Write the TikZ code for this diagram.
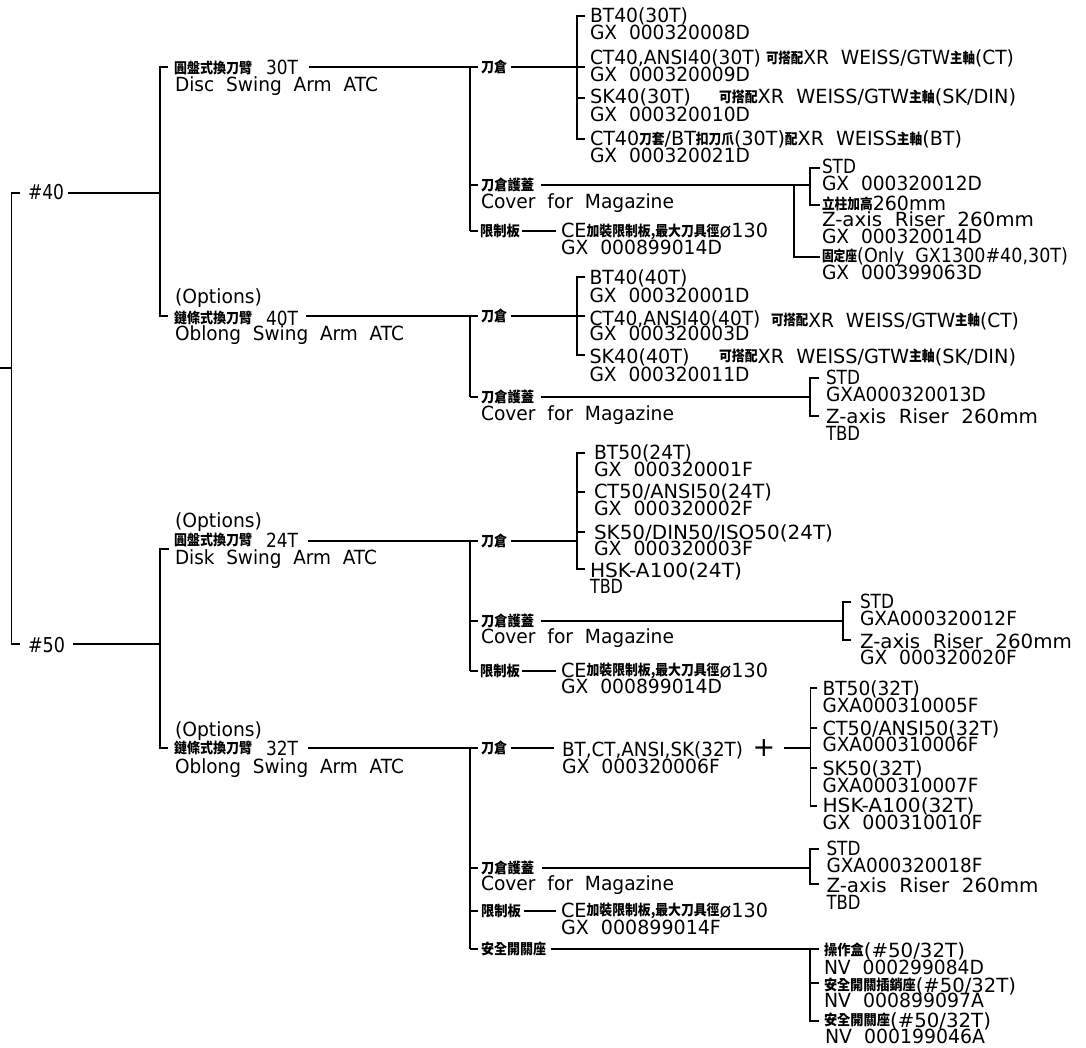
\documentclass[tikz,border=0pt]{standalone}
\usepackage{fontspec}
\usepackage{graphicx}
\setmainfont{DejaVu Sans}[WordSpace=2]
\newfontfamily\cj{Noto Sans CJK TC}
\newcommand\C[1]{\raisebox{1.5pt}{\scalebox{0.9}[1]{\cj\bfseries\fontsize{14.5}{14.5}\selectfont #1}}}
\newsavebox\fitbox
\newcommand\Fit[2]{\sbox\fitbox{#2}\pgfmathsetmacro\fitr{#1/\wd\fitbox}\scalebox{\fitr}[1]{\usebox\fitbox}}
\tikzset{
  lbl/.style={anchor=base west,inner sep=0pt,outer sep=0pt,font=\fontsize{19.5}{19.5}\selectfont},
  conn/.style={draw=black,line width=1.6pt,line cap=butt,line join=miter}
}
% name, x, baseline y, width, text
\newcommand\Lb[5]{\node[lbl] (#1) at (#2,#3) {\Fit{#4}{#5}};}
% tick from a named coordinate to a node's left side, leaving a gap
\newcommand\Hz[3]{\draw[conn,shorten >=#1pt] (#2) -- (#2 -| #3.west);}
% line from a node's right side to a named coordinate
\newcommand\Fr[3]{\draw[conn,shorten <=#1pt] (#3 -| #2.east) -- (#3);}
% bracket: gap top, top coord, bottom coord, gap bottom, top node, bottom node
\newcommand\Br[6]{\draw[conn,shorten <=#1pt,shorten >=#4pt] (#2 -| #5.west) -- (#2) -- (#3) -- (#3 -| #6.west);}
\begin{document}
\begin{tikzpicture}[x=1pt,y=-1pt]
\useasboundingbox (0,0) rectangle (1086,1048);
% ---------- level 1
\node[lbl,font=\fontsize{20.5}{20.5}\selectfont] (n40) at (28,200) {\Fit{36}{\#40}};
\node[lbl,font=\fontsize{20.5}{20.5}\selectfont] (n50) at (28,652) {\Fit{37}{\#50}};
% ---------- level 2
\Lb{a30}{174}{75}{124}{\C{圓盤式換刀臂}\hspace{14pt}\Fit{32}{30T}}
\Lb{a30e}{175}{92}{203}{Disc Swing Arm ATC}
\Lb{o40}{175}{304}{87}{(Options)}
\Lb{a40}{174}{325}{124}{\C{鏈條式換刀臂}\hspace{14pt}\Fit{32}{40T}}
\Lb{a40e}{175}{341}{229}{Oblong Swing Arm ATC}
\Lb{o24}{175}{527}{87}{(Options)}
\Lb{a24}{174}{547}{124}{\C{圓盤式換刀臂}\hspace{14pt}\Fit{32}{24T}}
\Lb{a24e}{175}{564}{202}{Disk Swing Arm ATC}
\Lb{o32}{175}{736}{87}{(Options)}
\Lb{a32}{174}{755}{124}{\C{鏈條式換刀臂}\hspace{14pt}\Fit{32}{32T}}
\Lb{a32e}{175}{773}{229}{Oblong Swing Arm ATC}
% ---------- level 3
\Lb{m30}{481}{74}{26}{\C{刀倉}}
\Lb{c30}{481}{192}{53}{\C{刀倉護蓋}}
\Lb{c30e}{481}{209}{193}{Cover for Magazine}
\Lb{l30}{480}{238}{40}{\C{限制板}}
\Lb{m40}{481}{323}{26}{\C{刀倉}}
\Lb{c40}{481}{404}{53}{\C{刀倉護蓋}}
\Lb{c40e}{481}{420}{193}{Cover for Magazine}
\Lb{m24}{481}{548}{26}{\C{刀倉}}
\Lb{c24}{481}{628}{53}{\C{刀倉護蓋}}
\Lb{c24e}{481}{643}{193}{Cover for Magazine}
\Lb{l24}{480}{678}{40}{\C{限制板}}
\Lb{m32}{481}{755}{26}{\C{刀倉}}
\Lb{c32}{481}{875}{53}{\C{刀倉護蓋}}
\Lb{c32e}{481}{890}{193}{Cover for Magazine}
\Lb{l32}{481}{918}{40}{\C{限制板}}
\Lb{s32}{481}{956}{65}{\C{安全開關座}}
% ---------- 30T magazines
\Lb{t1}{590}{23}{98}{BT40(30T)}
\Lb{t1g}{590}{40}{160}{GX 000320008D}
\Lb{t2}{590}{65}{171}{CT40,ANSI40(30T)}
\Lb{t2x}{766}{65}{248}{\C{可搭配}XR WEISS/GTW\C{主軸}(CT)}
\Lb{t2g}{590}{82}{160}{GX 000320009D}
\Lb{t3}{590}{104}{101}{SK40(30T)}
\Lb{t3x}{719}{104}{297}{\C{可搭配}XR WEISS/GTW\C{主軸}(SK/DIN)}
\Lb{t3g}{590}{122}{160}{GX 000320010D}
\Lb{t4}{590}{146}{372}{CT40\C{刀套}/BT\C{扣刀爪}(30T)\C{配}XR WEISS\C{主軸}(BT)}
\Lb{t4g}{590}{163}{160}{GX 000320021D}
% 30T cover
\Lb{u1}{822}{174}{34}{STD}
\Lb{u1g}{822}{191}{160}{GX 000320012D}
\Lb{u2}{822}{211}{124}{\C{立柱加高}260mm}
\Lb{u2e}{822}{227}{212}{Z-axis Riser 260mm}
\Lb{u2g}{822}{244}{160}{GX 000320014D}
\Lb{u3}{822}{263}{246}{\C{固定座}(Only GX1300\#40,30T)}
\Lb{u3g}{822}{280}{160}{GX 000399063D}
% 30T limit plate
\Lb{v1}{561}{238}{207}{CE\C{加裝限制板,最大刀具徑}ø130}
\Lb{v1g}{561}{255}{161}{GX 000899014D}
% ---------- 40T magazines
\Lb{w1}{589.5}{285}{98}{BT40(40T)}
\Lb{w1g}{589.5}{302}{160}{GX 000320001D}
\Lb{w2}{589.5}{325}{171}{CT40,ANSI40(40T)}
\Lb{w2x}{771}{327}{248}{\C{可搭配}XR WEISS/GTW\C{主軸}(CT)}
\Lb{w2g}{589.5}{341}{160}{GX 000320003D}
\Lb{w3}{589.5}{363}{100}{SK40(40T)}
\Lb{w3x}{719}{363}{297}{\C{可搭配}XR WEISS/GTW\C{主軸}(SK/DIN)}
\Lb{w3g}{589.5}{381}{160}{GX 000320011D}
% 40T cover
\Lb{x1}{826}{384}{34}{STD}
\Lb{x1g}{826}{401}{160}{GXA000320013D}
\Lb{x2}{826}{423}{212}{Z-axis Riser 260mm}
\Lb{x2g}{826}{440}{34}{TBD}
% ---------- 24T magazines
\Lb{y1}{594}{459}{98}{BT50(24T)}
\Lb{y1g}{594}{476}{159}{GX 000320001F}
\Lb{y2}{594}{498}{178}{CT50/ANSI50(24T)}
\Lb{y2g}{594}{515}{159}{GX 000320002F}
\Lb{y3}{594}{539}{239}{SK50/DIN50/ISO50(24T)}
\Lb{y3g}{594}{555}{159}{GX 000320003F}
\Lb{y4}{590}{577}{152}{HSK-A100(24T)}
\Lb{y4g}{590}{593}{33}{TBD}
% 24T cover
\Lb{z1}{860}{608}{34}{STD}
\Lb{z1g}{860}{625}{157}{GXA000320012F}
\Lb{z2}{860}{648}{212}{Z-axis Riser 260mm}
\Lb{z2g}{860}{664}{157}{GX 000320020F}
% 24T limit plate
\Lb{v2}{561}{677}{207}{CE\C{加裝限制板,最大刀具徑}ø130}
\Lb{v2g}{561}{693}{161}{GX 000899014D}
% ---------- 32T magazines
\Lb{p1}{562}{756}{181}{BT,CT,ANSI,SK(32T)}
\Lb{p1g}{562}{773}{158}{GX 000320006F}
\node[anchor=center,inner sep=0pt,font=\fontsize{27}{27}\selectfont] (plus) at (764,748) {+};
\Lb{q1}{822.5}{695}{97.5}{BT50(32T)}
\Lb{q1g}{822.5}{712}{156}{GXA000310005F}
\Lb{q2}{822.5}{735}{177}{CT50/ANSI50(32T)}
\Lb{q2g}{822.5}{751}{156}{GXA000310006F}
\Lb{q3}{822.5}{775}{100}{SK50(32T)}
\Lb{q3g}{822.5}{792}{156}{GXA000310007F}
\Lb{q4}{822.5}{812}{152}{HSK-A100(32T)}
\Lb{q4g}{822.5}{829}{160}{GX 000310010F}
% 32T cover
\Lb{r1}{826.5}{855}{34}{STD}
\Lb{r1g}{826.5}{872}{156}{GXA000320018F}
\Lb{r2}{826.5}{892}{212}{Z-axis Riser 260mm}
\Lb{r2g}{826.5}{909}{34}{TBD}
% 32T limit plate
\Lb{v3}{561}{917}{207}{CE\C{加裝限制板,最大刀具徑}ø130}
\Lb{v3g}{561}{934}{160}{GX 000899014F}
% 32T safety switch
\Lb{b1}{824}{957}{141}{\C{操作盒}(\#50/32T)}
\Lb{b1g}{824}{974}{160}{NV 000299084D}
\Lb{b2}{824}{992}{192}{\C{安全開關插銷座}(\#50/32T)}
\Lb{b2g}{824}{1007}{160}{NV 000899097A}
\Lb{b3}{824}{1027}{167}{\C{安全開關座}(\#50/32T)}
\Lb{b3g}{825}{1043}{160}{NV 000199046A}
% ---------- junction coordinates
\coordinate (rs) at (0,368);    \coordinate (rm) at (11.5,368);
\coordinate (rt) at (11.5,193); \coordinate (rb) at (11.5,644);
\coordinate (j40) at (160,193); \coordinate (j40t) at (160,67);  \coordinate (j40b) at (160,316);
\coordinate (j50) at (160,644); \coordinate (j50t) at (160,549); \coordinate (j50b) at (160,748);
\coordinate (k30a) at (470,67);  \coordinate (k30b) at (470,185); \coordinate (k30c) at (470,231);
\coordinate (k40a) at (470,316); \coordinate (k40b) at (470,397);
\coordinate (k24a) at (470,541); \coordinate (k24b) at (470,621); \coordinate (k24c) at (470,671);
\coordinate (k32a) at (470,748); \coordinate (k32b) at (470,868); \coordinate (k32c) at (470,911); \coordinate (k32d) at (470,949);
\coordinate (h1) at (577,16);  \coordinate (h2) at (577,67);  \coordinate (h3) at (577,98);  \coordinate (h4) at (577,139);
\coordinate (g1) at (577,277); \coordinate (g2) at (577,316); \coordinate (g3) at (577,355);
\coordinate (f1) at (577,453); \coordinate (f2) at (577,492); \coordinate (f3) at (577,532); \coordinate (f4) at (577,569); \coordinate (fm) at (577,541);
\coordinate (e1) at (810,168); \coordinate (em) at (810,185); \coordinate (e2) at (810,205);
\coordinate (e3) at (794,185); \coordinate (e4) at (794,257);
\coordinate (d1) at (810,378); \coordinate (dm) at (810,397); \coordinate (d2) at (810,416);
\coordinate (i1) at (843,602); \coordinate (im) at (843,621); \coordinate (i2) at (843,640);
\coordinate (q1c) at (810.5,688); \coordinate (q2c) at (810.5,728); \coordinate (qm) at (810.5,748); \coordinate (q3c) at (810.5,768); \coordinate (q4c) at (810.5,806);
\coordinate (r1c) at (810,849); \coordinate (rmc) at (810,868); \coordinate (r2c) at (810,884);
\coordinate (b1c) at (810,949); \coordinate (b2c) at (810,983); \coordinate (b3c) at (810,1021);
\coordinate (l30c) at (556,231); \coordinate (l24c) at (556,671); \coordinate (l32c) at (556,911);
% ---------- connectors
\draw[conn] (rs) -- (rm);
\Br{8}{rt}{rb}{8}{n40}{n50}
\Fr{4}{n40}{j40}
\Fr{8}{n50}{j50}
\Br{6}{j40t}{j40b}{6}{a30}{a40}
\Br{6}{j50t}{j50b}{6}{a24e}{a32}
\draw[conn,shorten <=11pt,shorten >=3pt] (k30a -| a30.east) -- (k30a -| m30.west);
\draw[conn,shorten <=8pt,shorten >=3pt] (k40a -| a40.east) -- (k40a -| m40.west);
\draw[conn,shorten <=10pt,shorten >=3pt] (k24a -| a24.east) -- (k24a -| m24.west);
\draw[conn,shorten <=10pt,shorten >=3pt] (k32a -| a32.east) -- (k32a -| m32.west);
\draw[conn] (k30a) -- (k30c);
\draw[conn] (k40a) -- (k40b);
\draw[conn] (k24a) -- (k24c);
\draw[conn] (k32a) -- (k32d);
\Hz{3}{k30b}{c30} \Hz{2}{k30c}{l30}
\Hz{3}{k40b}{c40}
\Hz{3}{k24b}{c24} \Hz{2}{k24c}{l24}
\Hz{3}{k32b}{c32} \Hz{3}{k32c}{l32} \Hz{3}{k32d}{s32}
% 30T magazine
\Fr{4}{m30}{h2}
\Br{5}{h1}{h4}{5}{t1}{t4}
\Hz{5}{h2}{t2} \Hz{5}{h3}{t3}
% 40T magazine
\Fr{4}{m40}{g2}
\Br{5}{g1}{g3}{5}{w1}{w3}
\Hz{5}{g2}{w2}
% 24T magazine
\Fr{4}{m24}{fm}
\Br{9}{f1}{f4}{5}{y1}{y4}
\Hz{9}{f2}{y2} \Hz{9}{f3}{y3}
% covers
\Fr{7}{c30}{em}
\Br{2}{e1}{e2}{2}{u1}{u2}
\draw[conn,shorten >=2pt] (e3) -- (e4) -- (e4 -| u3.west);
\Fr{7}{c40}{dm}
\Br{7}{d1}{d2}{7}{x1}{x2}
\Fr{7}{c24}{im}
\Br{9}{i1}{i2}{9}{z1}{z2}
\Fr{8}{c32}{rmc}
\Br{8}{r1c}{r2c}{8}{r1}{r2}
% limit plates
\Fr{2}{l30}{l30c} \Fr{2}{l24}{l24c} \Fr{3}{l32}{l32c}
% 32T magazine
\draw[conn,shorten <=4pt,shorten >=8pt] (qm -| m32.east) -- (qm -| p1.west);
\draw[conn,shorten <=8pt] (qm -| plus.east) -- (qm);
\Br{6}{q1c}{q4c}{6}{q1}{q4}
\Hz{6}{q2c}{q2} \Hz{6}{q3c}{q3}
% safety switch
\Fr{5}{s32}{b1c}
\Br{5}{b1c}{b3c}{5}{b1}{b3}
\Hz{5}{b2c}{b2}
\end{tikzpicture}
\end{document}
